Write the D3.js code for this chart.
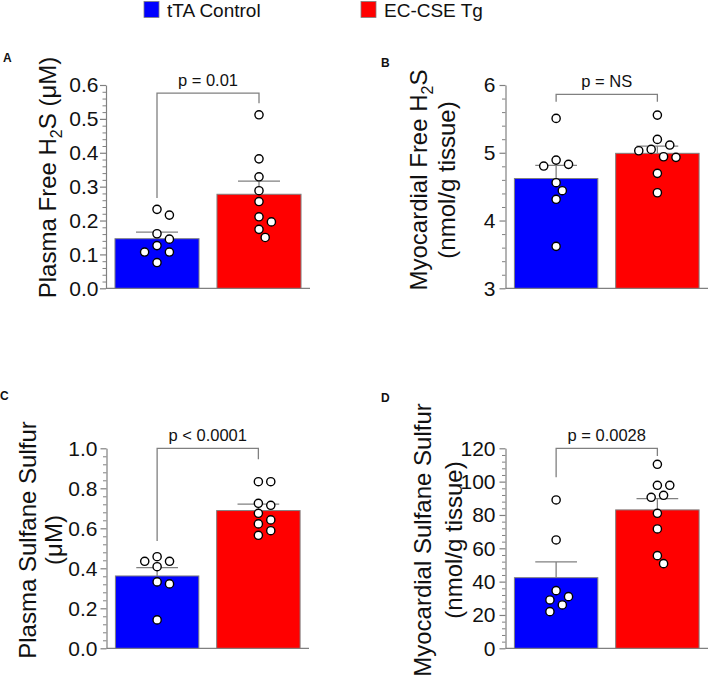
<!DOCTYPE html>
<html><head><meta charset="utf-8">
<script src="https://cdn.jsdelivr.net/npm/d3@7"></script>
<style>
body{margin:0;background:#fff}
svg{display:block}
text{font-family:"Liberation Sans",Arial,Helvetica,sans-serif;fill:#111}
</style>
</head><body>
<svg id="chart" width="709" height="678"></svg>
<script>
// ---------------- data ----------------
const groups = ["tTA Control", "EC-CSE Tg"];
const groupColors = ["#0000ff", "#ff0000"];

// A: Plasma free H2S (µM)
const plasmaH2S_ctrl = [0.233, 0.216, 0.161, 0.145, 0.126, 0.107, 0.107, 0.076];
const plasmaH2S_tg   = [0.512, 0.382, 0.329, 0.288, 0.256, 0.211, 0.196, 0.174, 0.150];
// B: Myocardial free H2S (nmol/g tissue)
const myoH2S_ctrl = [5.507, 4.892, 4.829, 4.804, 4.558, 4.440, 4.313, 3.619];
const myoH2S_tg   = [5.556, 5.197, 5.114, 5.050, 5.030, 4.941, 4.932, 4.696, 4.410];
// C: Plasma sulfane sulfur (µM)
const plasmaSS_ctrl = [0.458, 0.435, 0.435, 0.408, 0.332, 0.322, 0.142];
const plasmaSS_tg   = [0.833, 0.833, 0.725, 0.715, 0.675, 0.642, 0.622, 0.588, 0.565];
// D: Myocardial sulfane sulfur (nmol/g tissue)
const myoSS_ctrl = [89.0, 65.0, 34.6, 31.0, 29.0, 26.0, 22.0];
const myoSS_tg   = [110.4, 97.8, 97.8, 91.8, 90.6, 81.0, 71.6, 55.6, 50.8];

// axis ticks
const ticksA = [0, 0.1, 0.2, 0.3, 0.4, 0.5, 0.6];
const ticksB = [3, 4, 5, 6];
const ticksC = [0, 0.2, 0.4, 0.6, 0.8, 1.0];
const ticksD = [0, 20, 40, 60, 80, 100, 120];

// significance annotations
const pLabels = ["p = 0.01", "p = NS", "p < 0.0001", "p = 0.0028"];
const bracketLevels = [0.576, 5.861, 1.0, 120];
const bracketLegEnds = [[0.2665, 0.546], [5.752, 5.752], [0.5365, 0.945], [102.6, 115.4]];

// ---------------- layout ----------------
const svg = d3.select("#chart");
const GRAY = "#808080";

const panels = [
  {label: "A", lx: 3, ly: 62, data: [plasmaH2S_ctrl, plasmaH2S_tg], ticks: ticksA, fmt: d3.format(".1f"), minor: 0.02,
   x0: 106, x1: 310, yTop: 85, yBot: 288.3, pad: 1.5,
   title: {cy: 177.5, lines: [{x: 56, parts: [["Plasma Free H"], ["2", true], ["S (μM)"]]}]}},
  {label: "B", lx: 381, ly: 66.5, data: [myoH2S_ctrl, myoH2S_tg], ticks: ticksB, fmt: d3.format("d"), minor: 0.2,
   x0: 505.5, x1: 708, yTop: 85, yBot: 288.3, pad: 4,
   title: {cy: 180, lines: [{x: 427, parts: [["Myocardial Free H"], ["2", true], ["S"]]}, {x: 455, parts: [["(nmol/g tissue)"]]}]}},
  {label: "C", lx: 0, ly: 400, data: [plasmaSS_ctrl, plasmaSS_tg], ticks: ticksC, fmt: d3.format(".1f"), minor: 0.04,
   x0: 106.5, x1: 309, yTop: 448.3, yBot: 648.3, pad: 3,
   title: {cy: 540, lines: [{x: 35.5, parts: [["Plasma Sulfane Sulfur"]]}, {x: 62, parts: [["(μM)"]]}]}},
  {label: "D", lx: 381, ly: 401.5, data: [myoSS_ctrl, myoSS_tg], ticks: ticksD, fmt: d3.format("d"), minor: 4,
   x0: 505.5, x1: 708, yTop: 448.3, yBot: 648.3, pad: 4,
   title: {cy: 540, lines: [{x: 430.5, parts: [["Myocardial Sulfane Sulfur"]]}, {x: 462, parts: [["(nmol/g tissue)"]]}]}}
];

// legend
const legendPos = [{rx: 144, tx: 167}, {rx: 361, tx: 384}];
groups.forEach((g, i) => {
  svg.append("rect").attr("x", legendPos[i].rx).attr("y", 1.5).attr("width", 15).attr("height", 16)
    .attr("fill", groupColors[i]).attr("stroke", GRAY).attr("stroke-width", 0.8);
  svg.append("text").attr("x", legendPos[i].tx).attr("y", 17).attr("font-size", 19).text(g);
});

function swarm(values, y, step, minD) {
  const order = values.map((v, i) => i).sort((a, b) => values[b] - values[a]);
  const placed = [];
  const offs = new Array(values.length).fill(0);
  order.forEach(i => {
    const py = y(values[i]);
    for (let k = 0; k < 20; k++) {
      const m = k === 0 ? 0 : (k % 2 ? Math.ceil(k / 2) : -Math.ceil(k / 2));
      const ox = m * step;
      const hit = placed.some(p => (p.x - ox) ** 2 + (p.y - py) ** 2 < minD * minD);
      if (!hit) { offs[i] = ox; placed.push({x: ox, y: py}); break; }
    }
  });
  return offs;
}

panels.forEach((P, pi) => {
  const g = svg.append("g");
  const dom = [P.ticks[0], P.ticks[P.ticks.length - 1]];
  const y = d3.scaleLinear().domain(dom).range([P.yBot, P.yTop]);
  const x = d3.scaleBand().domain(groups).range([P.x0, P.x1]).paddingInner(0.176).paddingOuter(0.088);
  const bw = x.bandwidth();

  // minor ticks
  const minorVals = d3.range(dom[0], dom[1] + P.minor / 2, P.minor)
    .filter(v => !P.ticks.some(t => Math.abs(t - v) < P.minor / 10));
  const minorAx = g.append("g").attr("transform", `translate(${P.x0},0)`)
    .call(d3.axisLeft(y).tickValues(minorVals).tickSize(3.5).tickFormat("").tickSizeOuter(0));
  minorAx.select(".domain").remove();
  minorAx.selectAll("line").attr("stroke", GRAY);

  // major axis
  const ax = g.append("g").attr("transform", `translate(${P.x0},0)`)
    .call(d3.axisLeft(y).tickValues(P.ticks).tickSize(6).tickPadding(P.pad).tickFormat(P.fmt).tickSizeOuter(0));
  ax.select(".domain").attr("stroke", GRAY).attr("stroke-width", 1.2);
  ax.selectAll(".tick line").attr("stroke", GRAY).attr("stroke-width", 1.2);
  ax.selectAll(".tick text").attr("font-size", 21).attr("fill", "#111")
    .attr("font-family", '"Liberation Sans",Arial,sans-serif');

  // bottom baseline
  g.append("line").attr("x1", P.x0).attr("x2", P.x1).attr("y1", y(dom[0])).attr("y2", y(dom[0]))
    .attr("stroke", GRAY).attr("stroke-width", 1.2);

  // bars + error bars + points
  P.data.forEach((vals, gi) => {
    const mean = d3.mean(vals);
    const sem = d3.deviation(vals) / Math.sqrt(vals.length);
    const gx = x(groups[gi]);
    const cx = gx + bw / 2;
    g.append("rect").attr("x", gx).attr("y", y(mean)).attr("width", bw).attr("height", y(dom[0]) - y(mean))
      .attr("fill", groupColors[gi]).attr("stroke", GRAY).attr("stroke-width", 1);
    g.append("line").attr("x1", cx).attr("x2", cx).attr("y1", y(mean)).attr("y2", y(mean + sem))
      .attr("stroke", GRAY).attr("stroke-width", 1.3);
    g.append("line").attr("x1", cx - bw / 4).attr("x2", cx + bw / 4).attr("y1", y(mean + sem)).attr("y2", y(mean + sem))
      .attr("stroke", GRAY).attr("stroke-width", 1.3);
    const offs = swarm(vals, y, 6.2, 10);
    g.selectAll(null).data(vals).join("circle")
      .attr("cx", (d, i) => cx + offs[i]).attr("cy", d => y(d)).attr("r", 4.1)
      .attr("fill", "#fff").attr("stroke", "#000").attr("stroke-width", 1.4);
  });

  // bracket
  const c1 = x(groups[0]) + bw / 2, c2 = x(groups[1]) + bw / 2;
  const lev = y(bracketLevels[pi]);
  g.append("path")
    .attr("d", `M${c1},${y(bracketLegEnds[pi][0])}V${lev}H${c2}V${y(bracketLegEnds[pi][1])}`)
    .attr("fill", "none").attr("stroke", GRAY).attr("stroke-width", 1.3);
  g.append("text").attr("x", (c1 + c2) / 2).attr("y", lev - 7).attr("text-anchor", "middle")
    .attr("font-size", 16.5).text(pLabels[pi]);

  // panel letter
  g.append("text").attr("x", P.lx).attr("y", P.ly).attr("font-size", 12).attr("font-weight", "bold").text(P.label);

  // axis title
  P.title.lines.forEach(L => {
    const t = g.append("text").attr("transform", `translate(${L.x},${P.title.cy}) rotate(-90)`)
      .attr("text-anchor", "middle").attr("font-size", 24);
    L.parts.forEach(part => {
      if (part[1]) {
        t.append("tspan").attr("font-size", 16).attr("dy", 6).text(part[0]);
      } else {
        const ts = t.append("tspan").text(part[0]);
        if (t.selectAll("tspan").size() > 1) ts.attr("dy", -6);
      }
    });
  });
});
</script>
</body></html>
